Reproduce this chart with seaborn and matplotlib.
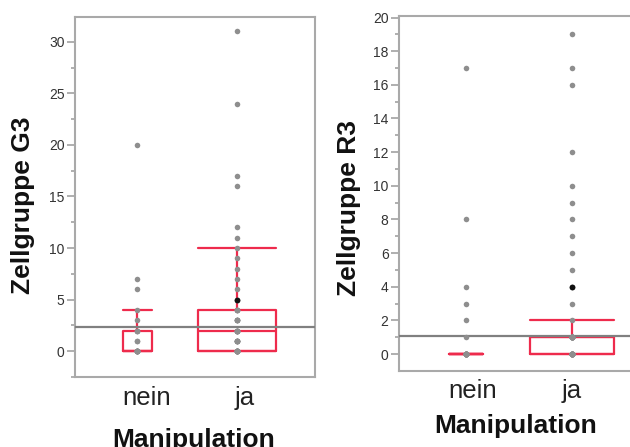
import numpy as np
import pandas as pd
import matplotlib
matplotlib.use("Agg")
import matplotlib.pyplot as plt
import matplotlib.transforms as mtransforms
from matplotlib.ticker import MultipleLocator
import seaborn as sns

# ---------------- data ----------------
groups = ["nein", "ja"]
x_title = "Manipulation"

# Zellgruppe G3 : distinct values and how often they occur
g3_title = "Zellgruppe G3"
g3_nein_values = [0, 1, 2, 3, 4, 6, 7, 20]
g3_nein_counts = [11, 2, 3, 1, 1, 1, 1, 1]
g3_ja_values = [0, 1, 2, 3, 4, 5, 6, 7, 8, 9, 10, 11, 12, 16, 17, 24, 31]
g3_ja_counts = [13, 7, 8, 5, 4, 1, 1, 1, 1, 1, 1, 1, 1, 1, 1, 1, 1]
g3_highlight_group = ["ja"]
g3_highlight_value = [5]
g3_reference = 2.35
g3_box_widths = [0.29, 0.78]

# Zellgruppe R3
r3_title = "Zellgruppe R3"
r3_nein_values = [0, 1, 2, 3, 4, 8, 17]
r3_nein_counts = [19, 1, 1, 1, 1, 1, 1]
r3_ja_values = [0, 1, 2, 3, 4, 5, 6, 7, 8, 9, 10, 12, 16, 17, 19]
r3_ja_counts = [20, 20, 1, 1, 1, 1, 1, 1, 1, 1, 1, 1, 1, 1, 1]
r3_highlight_group = ["ja"]
r3_highlight_value = [4]
r3_reference = 1.05
r3_box_widths = [0.32, 0.80]


def make_frame(nein_vals, nein_cnts, ja_vals, ja_cnts):
    rows = []
    for v, c in zip(nein_vals, nein_cnts):
        rows += [("nein", v)] * c
    for v, c in zip(ja_vals, ja_cnts):
        rows += [("ja", v)] * c
    return pd.DataFrame(rows, columns=["Manipulation", "Wert"])


g3 = make_frame(g3_nein_values, g3_nein_counts, g3_ja_values, g3_ja_counts)
r3 = make_frame(r3_nein_values, r3_nein_counts, r3_ja_values, r3_ja_counts)
g3_hi = pd.DataFrame({"Manipulation": g3_highlight_group, "Wert": g3_highlight_value})
r3_hi = pd.DataFrame({"Manipulation": r3_highlight_group, "Wert": r3_highlight_value})

# ---------------- style ----------------
sns.set_style("white")
plt.rcParams["font.family"] = ["Liberation Sans", "DejaVu Sans"]

RED = "#ee2b4c"
GREY_PT = "#8e8e8e"
FRAME = "#a9a9a9"

fig = plt.figure(figsize=(6.3, 4.47), dpi=100)
W, H = 630, 447
ax1 = fig.add_axes([75 / W, 1 - 377 / H, 240 / W, 360 / H])
ax2 = fig.add_axes([399 / W, 1 - 370.7 / H, 250 / W, 354.7 / H])


def draw_panel(ax, df, hi, ref, widths):
    for grp, w in zip(groups, widths):
        sub = df[df["Manipulation"] == grp]
        sns.boxplot(data=sub, x="Manipulation", y="Wert", order=groups, ax=ax,
                    fill=False, color=RED, linecolor=RED, linewidth=1.6,
                    width=w, whis=1.5, showfliers=False, capwidths=w)
    ax.axhline(ref, color="#808080", lw=1.6, zorder=3)
    sns.stripplot(data=df, x="Manipulation", y="Wert", order=groups, ax=ax,
                  jitter=False, color=GREY_PT, size=4.0, linewidth=0, zorder=4)
    sns.stripplot(data=hi, x="Manipulation", y="Wert", order=groups, ax=ax,
                  jitter=False, color="#111111", size=4.2, linewidth=0, zorder=5)


draw_panel(ax1, g3, g3_hi, g3_reference, g3_box_widths)
draw_panel(ax2, r3, r3_hi, r3_reference, r3_box_widths)

ax1.set_xlim(-0.628, 1.784)
ax1.set_ylim(-2.5, 32.4)
ax1.yaxis.set_major_locator(MultipleLocator(5))
ax1.yaxis.set_minor_locator(MultipleLocator(2.5))

ax2.set_xlim(-0.632, 1.726)
ax2.set_ylim(-0.99, 20.09)
ax2.yaxis.set_major_locator(MultipleLocator(2))
ax2.yaxis.set_minor_locator(MultipleLocator(1))

for ax, title, ycoords, xcoords, xpad in [
    (ax1, g3_title, (-0.2167, 0.478), (0.496, -0.194), 6.5),
    (ax2, r3_title, (-0.200, 0.459), (0.468, -0.176), 5.8),
]:
    for sp in ax.spines.values():
        sp.set_visible(True)
        sp.set_color(FRAME)
        sp.set_linewidth(1.5)
    ax.tick_params(axis="y", which="major", direction="out", length=5.5, width=1.1,
                   color="#9a9a9a", pad=2, labelsize=10, labelcolor="#333333", left=True)
    ax.tick_params(axis="y", which="minor", direction="out", length=3, width=1.1,
                   color="#9a9a9a", left=True)
    ax.tick_params(axis="x", length=0, pad=xpad, labelsize=18.5, labelcolor="#222222")
    ax.set_ylabel(title, fontsize=19, fontweight="bold", color="#111111", va="center")
    ax.yaxis.set_label_coords(*ycoords)
    ax.set_xlabel(x_title, fontsize=19, fontweight="bold", color="#111111", va="baseline")
    ax.xaxis.set_label_coords(*xcoords)

# small horizontal label shifts as in the reference
for ax, offs in [(ax1, [9, 8]), (ax2, [7, 0])]:
    for lbl, dx in zip(ax.get_xticklabels(), offs):
        lbl.set_transform(lbl.get_transform() +
                          mtransforms.ScaledTranslation(dx / 100, 0, fig.dpi_scale_trans))

fig.savefig("out.png", dpi=100)
